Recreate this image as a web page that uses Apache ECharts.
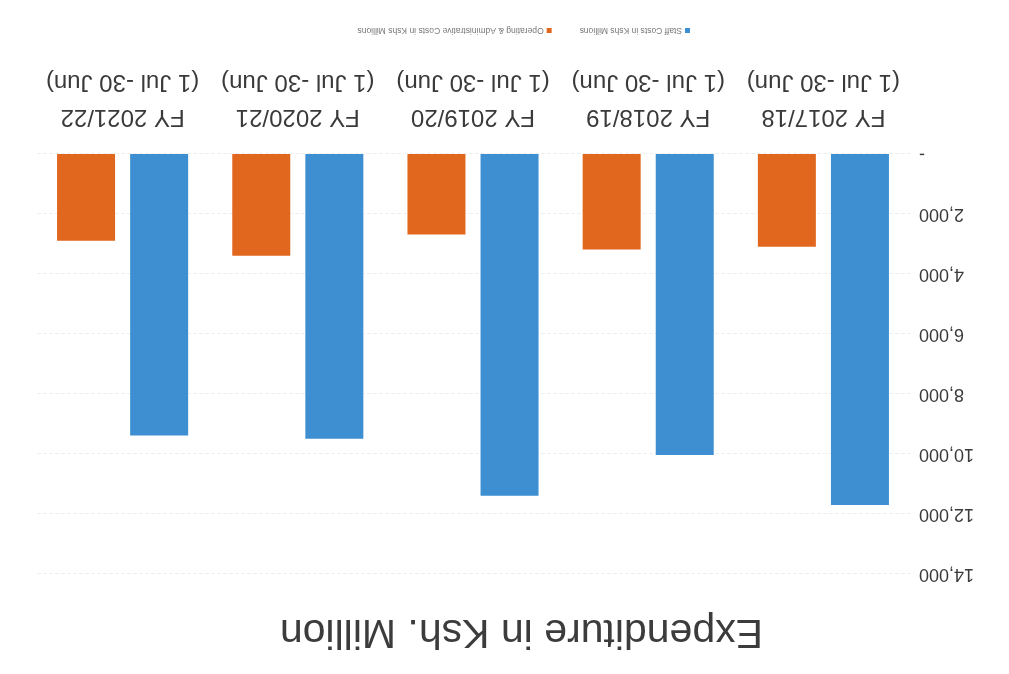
<!DOCTYPE html>
<html>
<head>
<meta charset="utf-8">
<script src="https://cdn.jsdelivr.net/npm/echarts@6/dist/echarts.min.js"></script>
<style>
  html, body { margin: 0; padding: 0; background: #fff; }
  #chart { width: 1009px; height: 674px; transform: rotate(180deg); }
</style>
</head>
<body>
<div id="chart"></div>
<script>
const fiscalYears = ['FY 2017/18', 'FY 2018/19', 'FY 2019/20', 'FY 2020/21', 'FY 2021/22'];
const periods = ['(1 Jul -30 Jun)', '(1 Jul -30 Jun)', '(1 Jul -30 Jun)', '(1 Jul -30 Jun)', '(1 Jul -30 Jun)'];
const staffCosts = [11700, 10030, 11390, 9490, 9380];
const operatingCosts = [3090, 3180, 2680, 3390, 2890];
const seriesNames = ['Staff Costs in Kshs Millions', 'Operating & Administrative Costs in Kshs Millions'];
const titleText = 'Expenditure in Ksh. Million';

const categories = fiscalYears.map((fy, i) => fy + '\n' + periods[i]);
const font = '"Liberation Sans", Arial, sans-serif';

const chart = echarts.init(document.getElementById('chart'), null, { renderer: 'canvas' });
chart.setOption({
  animation: false,
  backgroundColor: '#ffffff',
  title: {
    text: titleText,
    left: 241,
    top: 17,
    textStyle: { fontFamily: font, fontSize: 41, fontWeight: 'normal', color: '#3c3c3c' }
  },
  legend: {
    data: seriesNames,
    left: 314,
    top: 634,
    icon: 'rect',
    itemWidth: 5,
    itemHeight: 5,
    itemGap: 28,
    textStyle: { fontFamily: font, fontSize: 8.5, color: '#777777', padding: [0, 0, 0, -2] }
  },
  grid: { left: 98, right: 35, top: 100, bottom: 154, containLabel: false },
  xAxis: {
    type: 'category',
    data: categories,
    axisLine: { show: false },
    axisTick: { show: false },
    axisLabel: {
      interval: 0,
      hideOverlap: false,
      margin: 20,
      lineHeight: 35,
      fontFamily: font,
      fontSize: 24,
      color: '#3a3a3a'
    }
  },
  yAxis: {
    type: 'value',
    min: 0,
    max: 14000,
    interval: 2000,
    axisLine: { show: false },
    axisTick: { show: false },
    splitLine: { show: true, lineStyle: { color: '#efefef', type: 'dashed', width: 1 } },
    axisLabel: {
      margin: 8,
      fontFamily: font,
      fontSize: 18,
      color: '#3a3a3a',
      formatter: v => v === 0 ? '-' : v.toLocaleString('en-US')
    }
  },
  series: [
    {
      name: seriesNames[0],
      type: 'bar',
      data: staffCosts,
      barWidth: 58,
      barGap: '26%',
      itemStyle: { color: '#3d8fd1' }
    },
    {
      name: seriesNames[1],
      type: 'bar',
      data: operatingCosts,
      barWidth: 58,
      itemStyle: { color: '#e1671e' }
    }
  ]
});
</script>
</body>
</html>
